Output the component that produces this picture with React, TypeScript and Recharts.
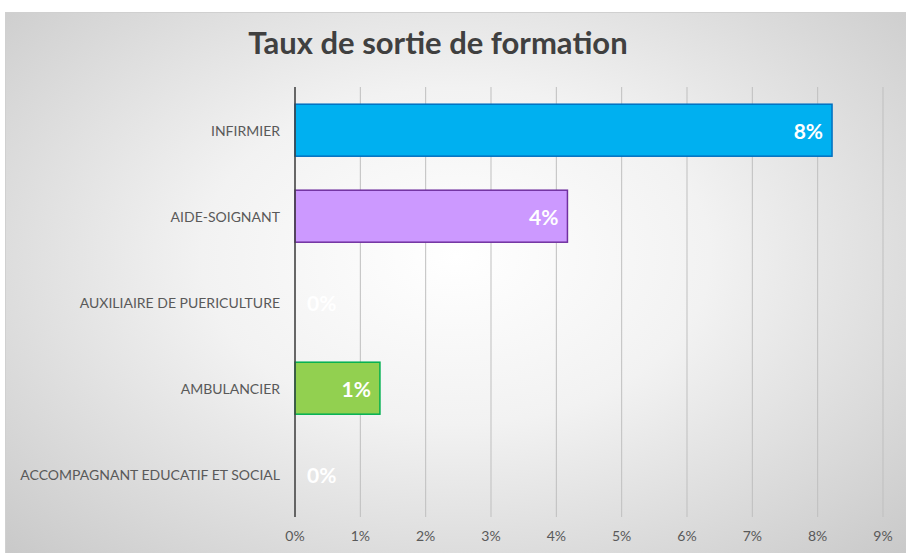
import React from "react";
import { BarChart, Bar, XAxis, YAxis, CartesianGrid } from "recharts";

const categories = [
  "INFIRMIER",
  "AIDE-SOIGNANT",
  "AUXILIAIRE DE PUERICULTURE",
  "AMBULANCIER",
  "ACCOMPAGNANT EDUCATIF ET SOCIAL",
];
const values = [8.22, 4.17, 0, 1.3, 0];
const fills = ["#00B0F0", "#CC99FF", "#A6A6A6", "#92D050", "#A6A6A6"];
const strokes = ["#0070C0", "#7030A0", "#7F7F7F", "#00B050", "#7F7F7F"];
const xTicks = [0, 1, 2, 3, 4, 5, 6, 7, 8, 9];

const data = categories.map((name, i) => ({ name, value: values[i], idx: i }));

const FONT = "Lato, 'Open Sans', sans-serif";

const BarShape = (props: any) => {
  const { x, y, width, height, payload } = props;
  const i = payload.idx;
  const w = Math.max(0, width || 0);
  const txt = `${Math.round(payload.value)}%`;
  const small = w < 40;
  return (
    <g>
      {w > 0 && (
        <rect x={x} y={y} width={w} height={height} fill={fills[i]} stroke={strokes[i]} strokeWidth={1.5} />
      )}
      <text
        x={small ? x + 12 : x + w - 9}
        y={y + height / 2}
        textAnchor={small ? "start" : "end"}
        dominantBaseline="central"
        fill="#FFFFFF"
        fontFamily={FONT}
        fontWeight="bold"
        fontSize={21}
      >
        {txt}
      </text>
    </g>
  );
};

const YTick = (props: any) => {
  const { x, y, payload } = props;
  return (
    <text x={x} y={y} textAnchor="end" dominantBaseline="central" fill="#595959" fontSize={14} fontFamily={FONT}>
      {payload.value}
    </text>
  );
};

export default function App() {
  return (
    <div style={{ position: "fixed", left: 0, top: 0, width: 906, height: 553, background: "#FFFFFF" }}>
      <div
        style={{
          position: "absolute",
          left: 5,
          top: 12,
          width: 901,
          height: 541,
          background: "radial-gradient(ellipse at 50% 45%, #FFFFFF 0%, #F2F2F2 40%, #C9C9C9 100%)",
          borderTop: "1px solid #D0D0D0",
          borderLeft: "1px solid #D0D0D0",
          boxSizing: "border-box",
        }}
      />
      <div
        style={{
          position: "absolute",
          left: 0,
          top: 23,
          width: 876,
          textAlign: "center",
          fontFamily: FONT,
          fontWeight: "bold",
          fontSize: 31,
          color: "#404040",
        }}
      >
        Taux de sortie de formation
      </div>
      <div style={{ position: "absolute", left: 0, top: 0 }}>
        <BarChart
          width={906}
          height={553}
          data={data}
          layout="vertical"
          margin={{ top: 87, right: 23, bottom: 0, left: 0 }}
          barCategoryGap="20%"
        >
          <CartesianGrid horizontal={false} stroke="#BFBFBF" strokeWidth={1} />
          <XAxis
            type="number"
            domain={[0, 9]}
            ticks={xTicks}
            tickFormatter={(v: number) => `${v}%`}
            axisLine={false}
            tickLine={false}
            tickSize={0}
            tickMargin={14}
            height={36}
            tick={{ fill: "#595959", fontSize: 14, fontFamily: FONT }}
          />
          <YAxis
            type="category"
            dataKey="name"
            width={295}
            axisLine={{ stroke: "#404040", strokeWidth: 1.5 }}
            tickLine={false}
            tickSize={0}
            tickMargin={15}
            tick={<YTick />}
            interval={0}
          />
          <Bar dataKey="value" isAnimationActive={false} shape={<BarShape />} />
        </BarChart>
      </div>
    </div>
  );
}
